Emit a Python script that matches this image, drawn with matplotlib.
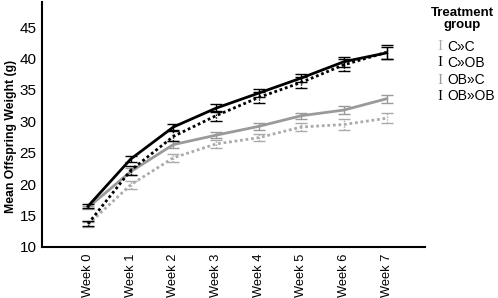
import matplotlib
matplotlib.use("Agg")
import matplotlib.pyplot as plt
import numpy as np

plt.rcParams['font.family'] = ['Liberation Sans', 'DejaVu Sans']

weeks = ["Week 0", "Week 1", "Week 2", "Week 3", "Week 4", "Week 5", "Week 6", "Week 7"]
groups = ["C»C", "C»OB", "OB»C", "OB»OB"]
cc = [13.6, 19.9, 24.2, 26.4, 27.4, 29.1, 29.5, 30.5]
cob = [13.7, 22.2, 27.6, 30.9, 33.8, 36.2, 39.0, 41.0]
obc = [16.3, 22.0, 26.3, 27.8, 29.2, 30.9, 31.8, 33.6]
obob = [16.5, 24.0, 29.1, 32.1, 34.5, 36.9, 39.5, 40.9]
cc_err = [0.4, 0.6, 0.6, 0.6, 0.6, 0.7, 0.8, 0.8]
cob_err = [0.4, 0.7, 0.8, 0.8, 0.8, 0.9, 1.0, 1.1]
obc_err = [0.3, 0.5, 0.5, 0.5, 0.5, 0.5, 0.6, 0.6]
obob_err = [0.3, 0.5, 0.5, 0.6, 0.6, 0.7, 0.8, 0.9]

series = [cc, cob, obc, obob]
errs = [cc_err, cob_err, obc_err, obob_err]
colors = ["#ababab", "#000000", "#9a9a9a", "#000000"]
styles = [(0, (1, 1)), (0, (1, 1)), "-", "-"]
zorders = [2, 4, 3, 5]

fig = plt.figure(figsize=(4.98, 2.98), dpi=100)
ax = fig.add_axes([42/498, 1-247/298, (425-42)/498, (247-2)/298])

x = np.arange(len(weeks))
for s, e, c, ls, z in zip(series, errs, colors, styles, zorders):
    ax.plot(x, s, color=c, linestyle=ls, linewidth=2.0, zorder=z)
    eb = ax.errorbar(x, s, yerr=e, fmt='none', ecolor=c, elinewidth=1.0,
                     capsize=4, capthick=1.0, zorder=z)
    if ls != "-":
        for lc in eb[2]:
            lc.set_linestyle((0, (1, 1)))

ax.set_xlim(-1.08, 7.9)
ax.set_ylim(10, 49)
ax.set_yticks([10, 15, 20, 25, 30, 35, 40, 45])
ax.set_xticks(x)
ax.set_xticklabels(weeks, rotation=90, fontsize=9.3)
ax.tick_params(axis='both', length=0)
ax.tick_params(axis='x', pad=5)
ax.tick_params(axis='y', labelsize=11, pad=4)
for sp in ["top", "right"]:
    ax.spines[sp].set_visible(False)
for sp in ["left", "bottom"]:
    ax.spines[sp].set_linewidth(1.5)
ax.set_ylabel("Mean Offspring Weight (g)", fontsize=8.8, fontweight='bold')
ax.yaxis.set_label_coords(-0.066, 0.45)

# legend
fig.text(462/498, 1-19/298, "Treatment\ngroup", ha='center', va='center',
         fontsize=9.5, fontweight='bold', linespacing=1.0)
leg_y = [47, 63, 80, 96]
for g, c, ls, yy in zip(groups, colors, styles, leg_y):
    fig.text(440/498, 1-yy/298, "I", ha='center', va='center', fontsize=11,
             family='Liberation Serif', color=c)
    fig.text(447/498, 1-yy/298, g, ha='left', va='center', fontsize=10)

fig.savefig("out.png", dpi=100)
